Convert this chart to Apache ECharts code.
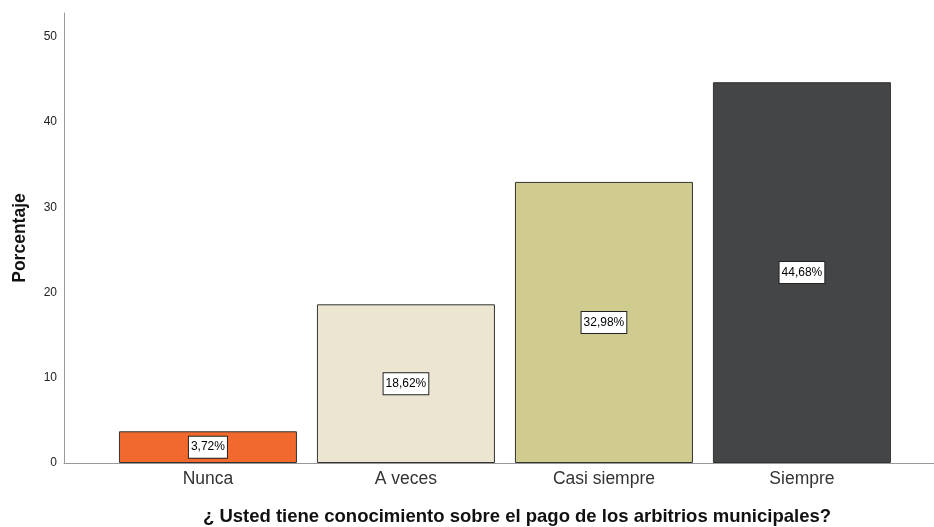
<!DOCTYPE html>
<html>
<head>
<meta charset="utf-8">
<script src="https://cdn.jsdelivr.net/npm/echarts@6/dist/echarts.min.js"></script>
<style>
  html, body { margin: 0; padding: 0; background: #fff; }
  #chart { width: 934px; height: 527px; }
</style>
</head>
<body>
<div id="chart"></div>
<script>
var categories = ['Nunca', 'A veces', 'Casi siempre', 'Siempre'];
var percentages = [3.72, 18.62, 32.98, 44.68];
var barColors = ['#f1692c', '#ebe5d2', '#d0cb8e', '#444546'];
var yTicks = [0, 10, 20, 30, 40, 50];

var chart = echarts.init(document.getElementById('chart'));

// barras colocadas en un eje de valores para dejar el hueco a la izquierda
var barData = percentages.map(function (v, i) {
    return {
        value: [i, v],
        itemStyle: { color: barColors[i] }
    };
});

var option = {
    animation: false,
    textStyle: { fontFamily: 'Liberation Sans, Arial, sans-serif' },
    title: {
        text: '¿ Usted tiene conocimiento sobre el pago de los arbitrios municipales?',
        left: 517,
        textAlign: 'center',
        top: 507,
        padding: 0,
        textStyle: { fontSize: 18.5, fontWeight: 'bold', color: '#111' }
    },
    grid: { left: 64, right: 0, top: 13, bottom: 64, containLabel: false },
    xAxis: {
        type: 'value',
        min: -0.727,
        max: 3.667,
        splitLine: { show: false },
        axisLine: { show: true, onZero: false, lineStyle: { color: '#999', width: 1 } },
        axisTick: { show: false },
        axisLabel: {
            customValues: [0, 1, 2, 3],
            formatter: function (v) { return categories[Math.round(v)] || ''; },
            fontSize: 17.5,
            color: '#333',
            margin: 7
        }
    },
    yAxis: {
        type: 'value',
        min: 0,
        max: 52.8,
        interval: 10,
        name: 'Porcentaje',
        nameLocation: 'middle',
        nameGap: 35,
        nameTextStyle: { fontSize: 17.5, fontWeight: 'bold', color: '#111' },
        splitLine: { show: false },
        axisLine: { show: true, onZero: false, lineStyle: { color: '#999', width: 1 } },
        axisTick: { show: false },
        axisLabel: {
            fontSize: 12,
            color: '#222',
            margin: 7,
            formatter: function (v) { return yTicks.indexOf(v) >= 0 ? String(v) : ''; }
        }
    },
    series: [{
        type: 'bar',
        barWidth: 178,
        data: barData,
        itemStyle: { borderColor: '#333', borderWidth: 1 },
        label: {
            show: true,
            position: 'inside',
            formatter: function (p) { return p.value[1].toFixed(2).replace('.', ',') + '%'; },
            backgroundColor: '#fff',
            borderColor: '#222',
            borderWidth: 1,
            padding: [5, 2, 4, 2],
            fontSize: 12,
            color: '#000'
        }
    }]
};

chart.setOption(option);
</script>
</body>
</html>
